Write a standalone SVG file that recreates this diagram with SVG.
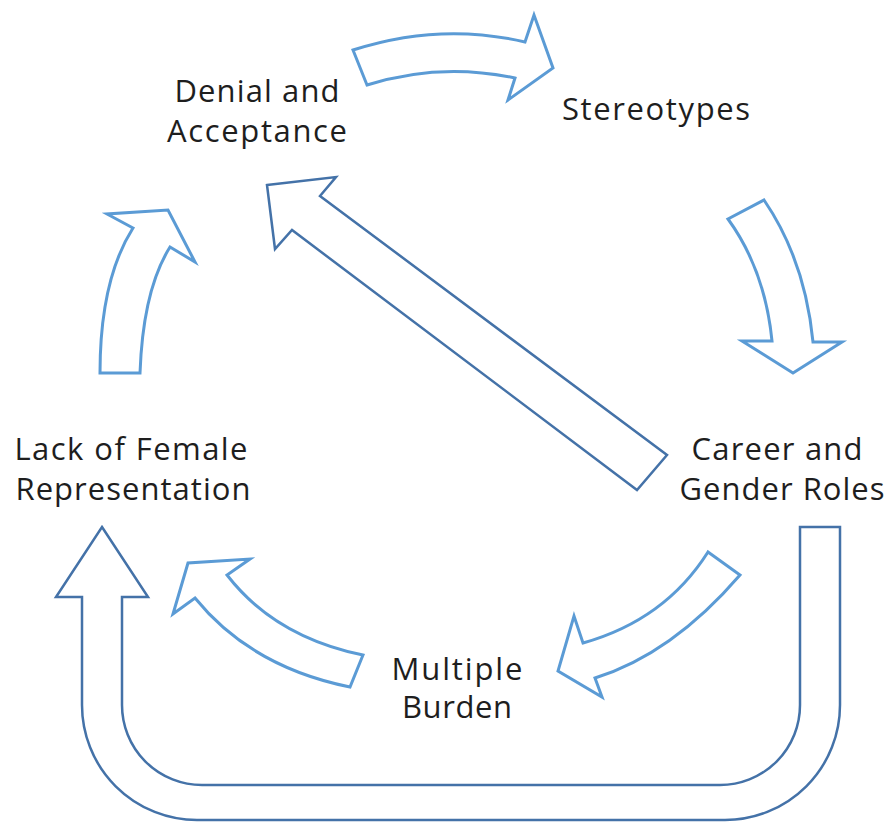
<svg xmlns="http://www.w3.org/2000/svg" width="888" height="823" viewBox="0 0 888 823">
<style>
.bg{fill:#ffffff}
.lbl{font-family:"Open Sans","Liberation Sans",sans-serif;font-size:31px;fill:#1e1e1e;text-anchor:middle}
.curv{fill:#ffffff;stroke:#5b9bd5;stroke-width:3;stroke-linejoin:miter}
.strt{fill:#ffffff;stroke:#4472a8;stroke-width:2.5;stroke-linejoin:miter}
</style>
<rect class="bg" x="0" y="0" width="888" height="823"/>
<g id="connectors">
<path id="a-denial-stereo" class="curv" d="M353,50 Q440,22 525,42 L534,15 L553,68 L508,100 L515,78 Q440,62 367,85 Z"/>
<path id="a-stereo-career" class="curv" d="M764,200 Q805,260 813,342 L842,342 L793,373 L742,341 L772,341 Q765,270 728,219 Z"/>
<path id="a-career-denial" class="strt" d="M267,185 L336,177 L320,196 L667,455 L637,490 L292,230 L275,249 Z"/>
<path id="a-career-burden" class="curv" d="M708,552 L740,575 Q672,654 595,678 L602,697 L558,671 L574,616 L583,643 Q665,620 708,552 Z"/>
<path id="a-burden-lack" class="curv" d="M363,655 L350,687 Q251,667 195,598 L173,614 L188,563 L250,559 L227,575 Q275,637 363,655 Z"/>
<path id="a-lack-denial" class="curv" d="M100,373 Q100,280 133,228 L107,214 L168,210 L195,262 L170,247 Q143,290 140,373 Z"/>
<path id="a-career-lack" class="strt" d="M102,527 L148,597 L122,597 L122,705 A80,80 0 0 0 202,785 L720,785 A80,80 0 0 0 800,705 L800,527 L840,527 L840,705 A115,115 0 0 1 725,820 L197,820 A115,115 0 0 1 82,705 L82,597 L56,597 Z"/>
</g>
<g id="node-denial">
<text class="lbl" x="257" y="102" textLength="165">Denial and</text>
<text class="lbl" x="257" y="142" textLength="180">Acceptance</text>
</g>
<g id="node-stereotypes">
<text class="lbl" x="656" y="120" textLength="188">Stereotypes</text>
</g>
<g id="node-career">
<text class="lbl" x="777" y="460" textLength="171">Career and</text>
<text class="lbl" x="782" y="500" textLength="205">Gender Roles</text>
</g>
<g id="node-burden">
<text class="lbl" x="457" y="680" textLength="131">Multiple</text>
<text class="lbl" x="457" y="718" textLength="110">Burden</text>
</g>
<g id="node-lack">
<text class="lbl" x="131" y="460" textLength="233">Lack of Female</text>
<text class="lbl" x="133" y="500" textLength="235">Representation</text>
</g>
</svg>
